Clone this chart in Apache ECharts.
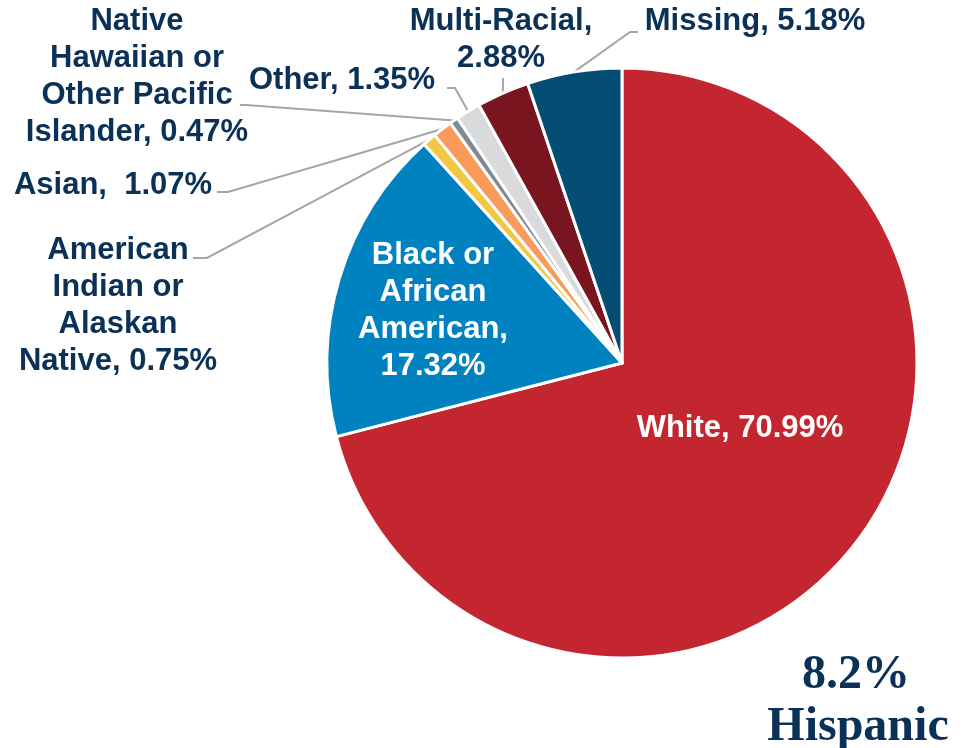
<!DOCTYPE html>
<html>
<head>
<meta charset="utf-8">
<script src="https://cdn.jsdelivr.net/npm/echarts@6/dist/echarts.min.js"></script>
<style>
  html, body { margin: 0; padding: 0; background: #ffffff; }
  #race { width: 967px; height: 748px; }
</style>
</head>
<body>
<div id="race"></div>
<script>
var myChart = echarts.init(document.getElementById('race'));

// categories in clockwise order from 12 o'clock
var categories = ['White', 'Black or African American', 'American Indian or Alaskan Native', 'Asian',
    'Native Hawaiian or Other Pacific Islander', 'Other', 'Multi-Racial', 'Missing'];
// label text as wrapped in the picture
var labelNames = ['White', 'Black or\nAfrican\nAmerican', 'American\nIndian or\nAlaskan\nNative', 'Asian, ',
    'Native\nHawaiian or\nOther Pacific\nIslander', 'Other', 'Multi-Racial', 'Missing'];
var shares = [70.99, 17.32, 0.75, 1.07, 0.47, 1.35, 2.88, 5.18];
var hispanicShare = 8.2;

var colors = ['#c4262f', '#0082c0', '#f2c744', '#f79a5a', '#7f8a92', '#d9dadc', '#78151e', '#034e72'];
var navy = '#0b3157';

// where each label sits: x, y = centre of the text block; line = [elbow, end] of the leader
var labelPos = [
    {x: 740, y: 428, inside: true},
    {x: 433, y: 311, inside: true},
    {x: 118, y: 306, line: [[207, 258], [193, 258]]},
    {x: 113, y: 185, line: [[228, 192], [217, 192]]},
    {x: 137, y: 77,  line: [[246, 105], [240, 105]]},
    {x: 342, y: 80,  line: [[455, 88], [447, 88]]},
    {x: 501, y: 40,  line: [[503, 80], [503, 78]]},
    {x: 755, y: 21,  line: [[630, 32], [638, 32]]}
];

var pieData = [];
for (var i = 0; i < categories.length; i++) {
    var inside = labelPos[i].inside;
    var sep = ', ';
    if (i === 1 || i === 6) sep = ',\n';
    if (i === 3) sep = ' ';
    pieData.push({
        name: categories[i],
        value: shares[i],
        itemStyle: {color: colors[i]},
        label: {
            show: true,
            position: inside ? 'inside' : 'outside',
            formatter: labelNames[i] + sep + shares[i].toFixed(2) + '%',
            color: inside ? '#ffffff' : navy
        },
        labelLine: {show: !inside}
    });
}

option = {
    backgroundColor: '#ffffff',
    animation: false,
    graphic: [
        {
            type: 'text',
            x: 856, y: 676,
            style: {
                text: hispanicShare.toFixed(1) + '%',
                textAlign: 'center',
                textVerticalAlign: 'middle',
                font: 'bold 48px "Liberation Serif"',
                fill: navy
            }
        },
        {
            type: 'text',
            x: 858, y: 728,
            style: {
                text: 'Hispanic',
                textAlign: 'center',
                textVerticalAlign: 'middle',
                font: 'bold 48px "Liberation Serif"',
                fill: navy
            }
        }
    ],
    series: [
        {
            type: 'pie',
            center: [622, 363],
            radius: 295,
            startAngle: 90,
            clockwise: true,
            avoidLabelOverlap: false,
            itemStyle: {
                borderColor: '#ffffff',
                borderWidth: 3
            },
            label: {
                fontFamily: '"Liberation Sans", Arial, sans-serif',
                fontWeight: 'bold',
                fontSize: 31,
                lineHeight: 37,
                align: 'center'
            },
            labelLine: {
                lineStyle: {color: '#a6a6a6', width: 2}
            },
            emphasis: {disabled: true},
            labelLayout: function (params) {
                var p = labelPos[params.dataIndex];
                var out = {x: p.x, y: p.y, align: 'center', verticalAlign: 'middle'};
                if (!p.inside && params.labelLinePoints) {
                    out.labelLinePoints = [params.labelLinePoints[0], p.line[0], p.line[1]];
                }
                return out;
            },
            data: pieData
        }
    ]
};

myChart.setOption(option);
</script>
</body>
</html>
